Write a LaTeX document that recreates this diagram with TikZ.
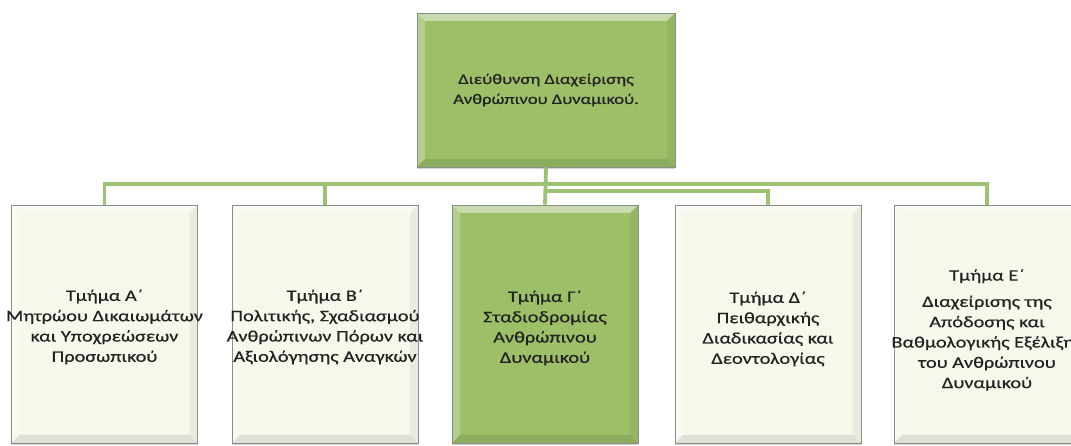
\documentclass[tikz,border=0pt]{standalone}
\usepackage{fontspec}
\setmainfont{Carlito}[FakeStretch=1.27,FakeBold=0.5]
\usetikzlibrary{shadows}
\definecolor{greenfill}{HTML}{9CBF68}
\definecolor{creamfill}{HTML}{F7F7EC}
\definecolor{linegreen}{HTML}{9DC274}
\definecolor{txt}{HTML}{222222}
\tikzset{
  bevel/.style={path picture={
    \fill[white,opacity=.45] (path picture bounding box.north west) -- (path picture bounding box.north east)
      -- ([shift={(-8pt,-8pt)}]path picture bounding box.north east) -- ([shift={(8pt,-8pt)}]path picture bounding box.north west) -- cycle;
    \fill[white,opacity=.25] (path picture bounding box.north west) -- (path picture bounding box.south west)
      -- ([shift={(8pt,8pt)}]path picture bounding box.south west) -- ([shift={(8pt,-8pt)}]path picture bounding box.north west) -- cycle;
    \fill[black,opacity=.05] (path picture bounding box.north east) -- (path picture bounding box.south east)
      -- ([shift={(-8pt,8pt)}]path picture bounding box.south east) -- ([shift={(-8pt,-8pt)}]path picture bounding box.north east) -- cycle;
    \fill[black,opacity=.09] (path picture bounding box.south west) -- (path picture bounding box.south east)
      -- ([shift={(-8pt,8pt)}]path picture bounding box.south east) -- ([shift={(8pt,8pt)}]path picture bounding box.south west) -- cycle;
  }},
  unitbox/.style={rectangle, inner sep=0pt, draw=black!45, line width=0.9pt,
    drop shadow={shadow xshift=0pt, shadow yshift=-2pt, opacity=.35}, bevel},
  creambox/.style={unitbox, fill=creamfill, minimum width=186pt, minimum height=238pt},
  greenbox/.style={unitbox, fill=greenfill},
  boxtext/.style={inner sep=0pt, align=center, text=txt, font=\fontsize{16}{20.3}\selectfont},
  conn/.style={draw=linegreen, line width=3.8pt}
}
\begin{document}
\begin{tikzpicture}[x=1pt,y=1pt]
\clip (0,0) rectangle (1071,446);
\fill[white] (0,0) rectangle (1071,446);
\coordinate (hub) at (546,262);
\coordinate (hub2) at (546,255);
\node[greenbox, minimum width=258pt, minimum height=154pt] (top) at (546,356) {};
\node[boxtext, font=\fontsize{14.6}{20}\selectfont] (toptext) at (top.center)
  {Διεύθυνση Διαχείρισης\\Ανθρώπινου Δυναμικού.};
\node[creambox] (a) at (104.5,122) {};
\node[greenbox, minimum width=186pt, minimum height=238pt] (g) at (545,122) {};
\node[creambox] (b) at (325,122) {};
\node[creambox] (d) at (768,122) {};
\node[creambox] (e) at (987,122) {};
\node[boxtext] (atext) at ([yshift=-3pt]a.center) {Τμήμα Α΄\\Μητρώου Δικαιωμάτων\\και Υποχρεώσεων\\Προσωπικού};
\node[boxtext] (btext) at ([yshift=-3pt]b.center) {Τμήμα Β΄\\Πολιτικής, Σχαδιασμού\\Ανθρώπινων Πόρων και\\Αξιολόγησης Αναγκών};
\node[boxtext] (gtext) at ([yshift=-4pt]g.center) {Τμήμα Γ΄\\Σταδιοδρομίας\\Ανθρώπινου\\Δυναμικού};
\node[boxtext] (dtext) at ([yshift=-5pt]d.center) {Τμήμα Δ΄\\Πειθαρχικής\\Διαδικασίας και\\Δεοντολογίας};
\node[boxtext] (etext) at ([yshift=-6pt]e.center) {Τμήμα Ε΄\\[6pt]Διαχείρισης της\\Απόδοσης και\\Βαθμολογικής Εξέλιξης\\του Ανθρώπινου\\Δυναμικού};
\draw[conn] (top.south) -- (g.north);
\draw[conn] (hub) -| (a.north);
\draw[conn] (hub) -| (b.north);
\draw[conn] (hub) -| (e.north);
\draw[conn] (hub2) -| (d.north);
\end{tikzpicture}
\end{document}
